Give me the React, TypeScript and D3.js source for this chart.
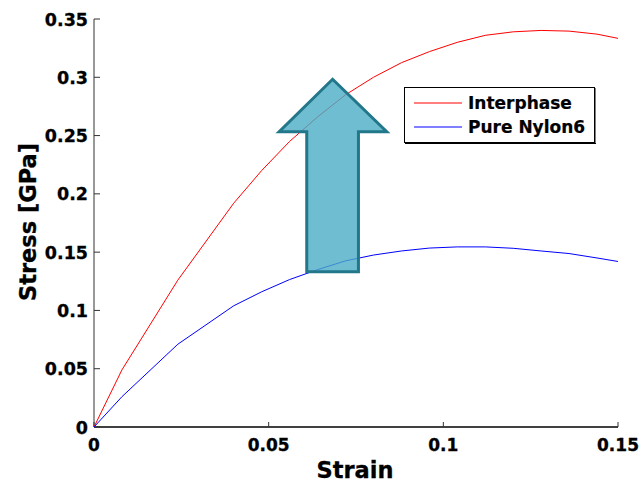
import React from "react";
import * as d3 from "d3";

const strain = [0, 0.008, 0.024, 0.04, 0.048, 0.056, 0.064, 0.072, 0.08, 0.088, 0.096, 0.104, 0.112, 0.12, 0.128, 0.136, 0.144, 0.15];
const interphase = [0, 0.049, 0.126, 0.192, 0.22, 0.245, 0.266, 0.285, 0.3, 0.3125, 0.322, 0.33, 0.336, 0.339, 0.3402, 0.3396, 0.337, 0.3334];
const pureNylon6 = [0, 0.026, 0.071, 0.104, 0.116, 0.1265, 0.135, 0.1425, 0.1475, 0.151, 0.1535, 0.1545, 0.1545, 0.1533, 0.151, 0.1488, 0.145, 0.142];
const xTicks = [0, 0.05, 0.1, 0.15];
const yTicks = [0, 0.05, 0.1, 0.15, 0.2, 0.25, 0.3, 0.35];
const xTickLabels = ["0", "0.05", "0.1", "0.15"];
const yTickLabels = ["0", "0.05", "0.1", "0.15", "0.2", "0.25", "0.3", "0.35"];
const seriesNames = ["Interphase", "Pure Nylon6"];
// annotation arrow in data units: [strain, stress]
const arrowShape: [number, number][] = [
  [0.0683, 0.2983],
  [0.0838, 0.2533],
  [0.0757, 0.2533],
  [0.0757, 0.1332],
  [0.0609, 0.1332],
  [0.0609, 0.2533],
  [0.053, 0.2533],
];

const FONT = "'DejaVu Sans', Verdana, sans-serif";

export default function App() {
  const W = 640, H = 486;
  const x = d3.scaleLinear().domain([0, 0.15]).range([94, 618]);
  const y = d3.scaleLinear().domain([0, 0.35]).range([427, 19]);
  const line = d3
    .line<number>()
    .x((_, i) => x(strain[i]))
    .y((d) => y(d));
  const arrowPath = d3.line()(arrowShape.map(([a, b]) => [x(a), y(b)] as [number, number])) + "Z";
  const series = [
    { name: seriesNames[0], values: interphase, color: "#ff0000" },
    { name: seriesNames[1], values: pureNylon6, color: "#0000ff" },
  ];
  return (
    <svg
      width={W}
      height={H}
      style={{ position: "absolute", left: 0, top: 0, background: "#fff" }}
      fontFamily={FONT}
    >
      <rect x={0} y={0} width={W} height={H} fill="#fff" />
      {/* axes */}
      <line x1={x(0)} x2={x(0)} y1={y(0.35)} y2={y(0)} stroke="#333" strokeWidth={1} />
      <line x1={x(0)} x2={x(0.15)} y1={y(0)} y2={y(0)} stroke="#000" strokeWidth={1.3} />
      {yTicks.map((t, i) => (
        <g key={"y" + i}>
          <line x1={x(0)} x2={x(0) + 6} y1={y(t)} y2={y(t)} stroke="#333" />
          <text
            x={88}
            y={y(t) + 6.5}
            textAnchor="end"
            fontSize={17.5}
            fontWeight="bold"
            fill="#000"
            stroke="#000"
            strokeWidth={0.3}
          >
            {yTickLabels[i]}
          </text>
        </g>
      ))}
      {xTicks.map((t, i) => (
        <g key={"x" + i}>
          <line x1={x(t)} x2={x(t)} y1={y(0)} y2={y(0) - 5} stroke="#333" />
          <text
            x={x(t)}
            y={451}
            textAnchor="middle"
            fontSize={17}
            fontWeight="bold"
            fill="#000"
            stroke="#000"
            strokeWidth={0.3}
          >
            {xTickLabels[i]}
          </text>
        </g>
      ))}
      <text x={355} y={478} textAnchor="middle" fontSize={22.5} fontWeight="bold" fill="#000" stroke="#000" strokeWidth={0.3}>
        Strain
      </text>
      <text
        transform={`translate(36,${222}) rotate(-90)`}
        textAnchor="middle"
        fontSize={22.5}
        fontWeight="bold"
        fill="#000"
        stroke="#000"
        strokeWidth={0.3}
      >
        Stress [GPa]
      </text>
      {/* series */}
      {series.map((s) => (
        <path key={s.name} d={line(s.values) || ""} fill="none" stroke={s.color} strokeWidth={1} />
      ))}
      {/* arrow annotation */}
      <path
        d={arrowPath}
        fill="#4bacc6"
        fillOpacity={0.8}
        stroke="#23778a"
        strokeWidth={3}
        strokeLinejoin="miter"
      />
      {/* legend */}
      <rect x={404.5} y={87.5} width={190} height={55} fill="#fff" stroke="#000" strokeWidth={1} />
      <line x1={595} x2={595} y1={88} y2={144} stroke="#000" strokeWidth={1} />
      <line x1={405} x2={596} y1={143.5} y2={143.5} stroke="#000" strokeWidth={1} />
      {series.map((s, i) => (
        <g key={"l" + i}>
          <line x1={414} x2={462} y1={103 + i * 24} y2={103 + i * 24} stroke={s.color} strokeWidth={1} />
          <text x={468} y={109 + i * 24} fontSize={17} fontWeight="bold" fill="#000" stroke="#000" strokeWidth={0.2}>
            {s.name}
          </text>
        </g>
      ))}
    </svg>
  );
}
